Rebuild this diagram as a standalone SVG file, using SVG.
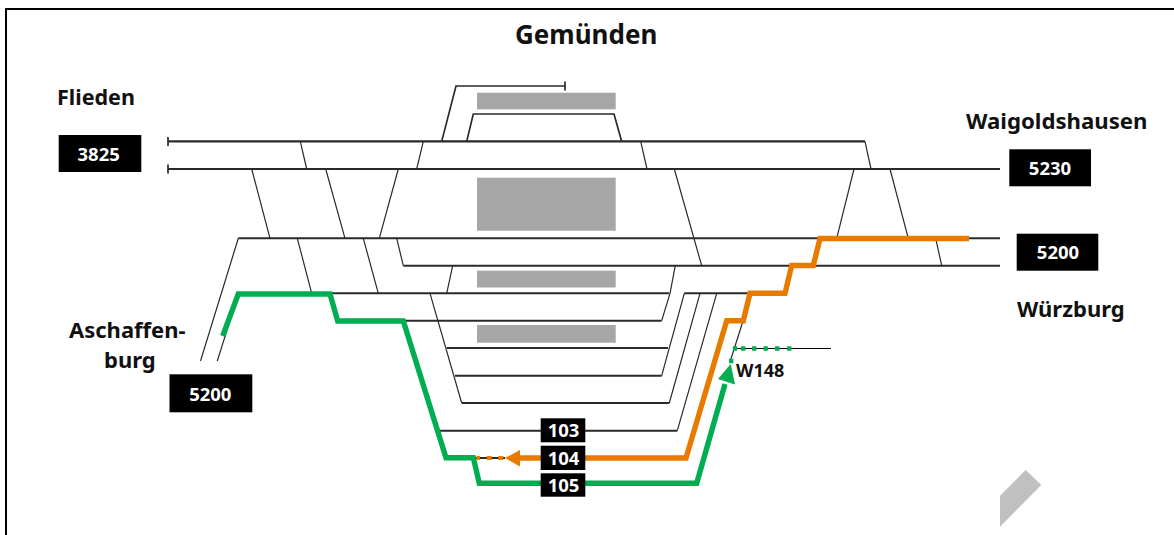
<svg xmlns="http://www.w3.org/2000/svg" width="1174" height="535" viewBox="0 0 1174 535">
<style>
.t{fill:none;stroke:#2a2a2a;stroke-width:2.1}
.l{fill:none;stroke:#2a2a2a;stroke-width:1.7}
.d{fill:none;stroke:#2a2a2a;stroke-width:1.2}
.g{fill:#a6a6a6}
.b{fill:#000}
.w{font-family:"Noto Sans","Liberation Sans",sans-serif;font-weight:700;font-size:18.5px;fill:#fff;text-anchor:middle}
.h{font-family:"Noto Sans","Liberation Sans",sans-serif;font-weight:700;font-size:22px;fill:#111}
.gr{fill:none;stroke:#00ad50;stroke-width:5.4;stroke-linejoin:miter}
.or{fill:none;stroke:#e87a00;stroke-width:5.4;stroke-linejoin:miter}
</style>
<rect x="0" y="0" width="1174" height="535" fill="#fff"/>
<path d="M6 535V9H1174" fill="none" stroke="#000" stroke-width="2"/>
<g id="platforms">
<rect class="g" x="477" y="92.7" width="138.7" height="16.6"/>
<rect class="g" x="477" y="177.7" width="138.7" height="53"/>
<rect class="g" x="477" y="270.7" width="138.7" height="16.8"/>
<rect class="g" x="477" y="325" width="138.7" height="17.7"/>
</g>
<g id="connectors">
<path class="t" d="M168 141.4H865M168 169H1000M238.3 238.3H1000M403.3 265.7H1000M236 293.3H669M684.3 293.3H748M403 320.7H661.7M446.7 348H668M455 375.7H661.7M461.7 403H669.3M440 430.7H677.3M446 458H505M479 484.5H697"/>
<path class="l" d="M168 137v9M168 164.5v9M565 81.5v9"/>
<path class="l" d="M441.7 141.4L456 86H565M466.7 141.4L473.3 114H614L621.7 141.4"/>
<path class="d" d="M865 141.4L871 169M300.3 141.4L306.7 169M423.3 141.4L416.7 169M640.7 141.4L647 169M251.7 169L270 238.3M325.7 169L345 238.3M398.3 169L379.3 238.3M674.3 169L701.7 265.7M854 169L836.7 238.3M890 169L908.3 238.3M935.7 238.3L941.7 265.7M238.3 238.3L200.5 361M297.3 238.3L311.7 293.3M363.3 238.3L378.3 293.3M396.7 238.3L403.3 265.7M452.7 265.7L446.7 293.3M675.3 265.7L670 293.3L661.7 320.7M430 293.3L461.7 403M684.3 293.3L661.7 375.7M700 293.3L669.3 403M716.7 293.3L677.3 430.7M743 321L730 362"/>
<path d="M735 348.5H831" fill="none" stroke="#000" stroke-width="1"/>
<path class="d" d="M238.3 294L217.3 361"/>
<path class="gr" d="M222.7 336L238.3 294H330L337.7 321H403.3L446 457.7H473.3L479.3 483.3H696.7L725 384"/>
<path class="or" d="M969 238.5H820L813.3 265.5H791.7L785 293.3H750L743.3 320.7H726.7L686 458H518"/>
<path d="M505 458L520 450V466.5Z" fill="#e87a00"/>
<path d="M730.7 364L718 379L735 384.5Z" fill="#00ad50"/>
<path d="M476.7 458H480M486.7 458H491.7M498.3 458H503.3" stroke="#e87a00" stroke-width="4" fill="none"/>
<path d="M732.8 348.5h4.4M741 348.5h4.4M752 348.5h4.4M763.5 348.5h4.4M775 348.5h4.4M787 348.5h4.4M729 361h4.4" stroke="#00ad50" stroke-width="4.4" fill="none"/>
</g>
<g id="node-gemuenden"><text class="h" x="515" y="44" style="font-size:26px">Gemünden</text></g>
<g id="node-flieden"><text class="h" x="57" y="105" style="font-size:21.5px">Flieden</text></g>
<g id="node-waigoldshausen"><text class="h" x="966" y="129" style="font-size:22.2px">Waigoldshausen</text></g>
<g id="node-wuerzburg"><text class="h" x="1017" y="317">Würzburg</text></g>
<g id="node-aschaffenburg"><text class="h" x="69" y="338">Aschaffen-</text><text class="h" x="104" y="368">burg</text></g>
<g id="node-w148"><text class="h" x="736" y="377" style="font-size:18px">W148</text></g>
<g id="node-3825"><rect class="b" x="58.7" y="135" width="82.6" height="37"/><text class="w" x="98.7" y="161">3825</text></g>
<g id="node-5230"><rect class="b" x="1009.3" y="149.3" width="81.7" height="37"/><text class="w" x="1050" y="175">5230</text></g>
<g id="node-5200r"><rect class="b" x="1016.7" y="233.7" width="81.6" height="37"/><text class="w" x="1058" y="259">5200</text></g>
<g id="node-5200l"><rect class="b" x="169.5" y="374.3" width="82.8" height="38"/><text class="w" x="210.3" y="400.5">5200</text></g>
<g id="node-103"><rect class="b" x="540.7" y="418.3" width="44.6" height="24"/><text class="w" x="563.5" y="437">103</text></g>
<g id="node-104"><rect class="b" x="540.7" y="445.7" width="44.6" height="24.3"/><text class="w" x="563.5" y="464.5">104</text></g>
<g id="node-105"><rect class="b" x="540.7" y="473.3" width="44.6" height="23.4"/><text class="w" x="563.5" y="491.5">105</text></g>
<path id="mark" d="M1000 495.7L1025.7 470L1041.3 485L1000 526.7Z" fill="#c0c0c0"/>
</svg>
